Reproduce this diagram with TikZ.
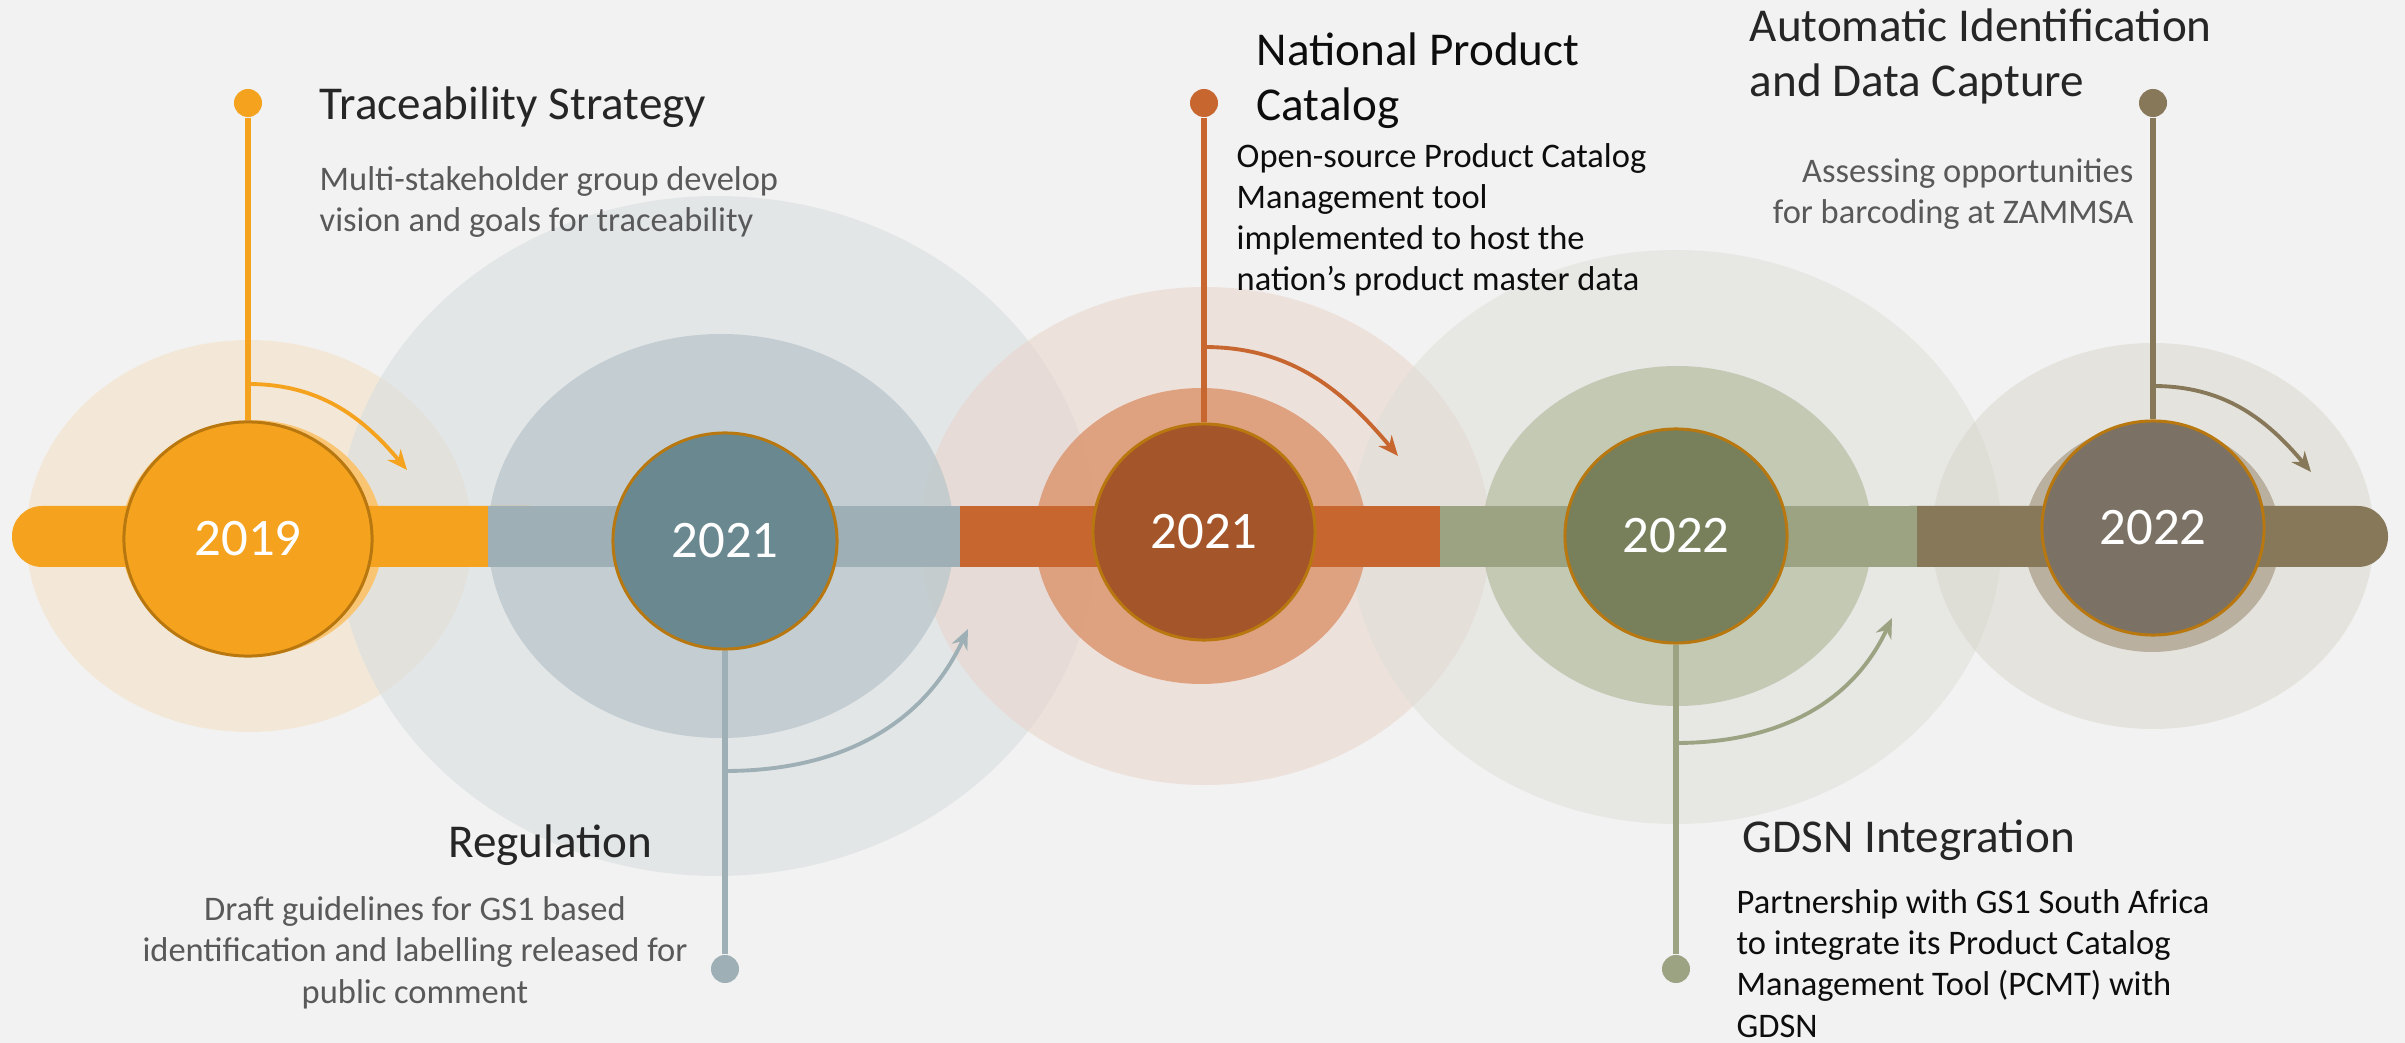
\documentclass[tikz,border=0pt]{standalone}
\usepackage{fontspec}
\setmainfont{Carlito}
\usetikzlibrary{shapes.geometric,arrows.meta}
\definecolor{bg}{HTML}{F2F2F2}
\definecolor{c1}{HTML}{F5A31F}
\definecolor{c2}{HTML}{9EB0B6}
\definecolor{c3}{HTML}{C86630}
\definecolor{c4}{HTML}{9CA383}
\definecolor{c5}{HTML}{87785A}
\definecolor{n1}{HTML}{F5A31F}
\definecolor{n2}{HTML}{6A8890}
\definecolor{n3}{HTML}{A5552A}
\definecolor{n4}{HTML}{78805B}
\definecolor{n5}{HTML}{7B7265}
\definecolor{h1}{HTML}{FAC573}
\definecolor{h5}{HTML}{BAB09F}
\definecolor{b1}{HTML}{F4E0C0}
\definecolor{b2}{HTML}{D4DCDE}
\definecolor{b3}{HTML}{EAD2C6}
\definecolor{b4}{HTML}{DEDED8}
\definecolor{b5}{HTML}{D8D6CA}
\definecolor{m2}{HTML}{BAC7CC}
\definecolor{m3}{HTML}{DB8E64}
\definecolor{m4}{HTML}{B9BFA5}
\definecolor{nodeborder}{HTML}{B8780F}
\definecolor{titlec}{HTML}{262626}
\definecolor{grayc}{HTML}{595959}
\definecolor{blackc}{HTML}{0D0D0D}
\begin{document}
\begin{tikzpicture}[x=0.01cm,y=-0.01cm,
  big/.style={fill opacity=0.5},
  mid/.style={fill opacity=0.75},
  yearnode/.style={ellipse, draw=nodeborder, line width=0.85pt, inner sep=0pt, text=white, font=\fontsize{15}{17}\selectfont},
  dotnode/.style={circle, inner sep=0pt, minimum size=0.28cm},
  stem/.style={line width=1.7pt},
  arr/.style={line width=1.1pt, -{Stealth[length=0.2cm,width=0.17cm]}},
  titletext/.style={font=\fontsize{13.4}{15.8}\selectfont, text=titlec, inner sep=0pt, align=left},
  desctext/.style={font=\fontsize{9.8}{11.75}\selectfont, inner sep=0pt},
]
\fill[bg] (0,0) rectangle (2405,1043);
\useasboundingbox (0,0) rectangle (2405,1043);

% big pale ellipses
\fill[b1, big] (249,536) ellipse [x radius=223, y radius=196];
\fill[b2, big] (717,536) ellipse [x radius=380, y radius=340];
\fill[b3, big] (1205,536) ellipse [x radius=285, y radius=249];
\fill[b4, big] (1676,537) ellipse [x radius=326, y radius=287];
\fill[b5, big] (2153,536) ellipse [x radius=221, y radius=193];

% medium rings
\fill[m2, mid] (721,536) ellipse [x radius=233, y radius=202];
\fill[m3, mid] (1201,536) ellipse [x radius=166, y radius=148];
\fill[m4, mid] (1677,536) ellipse [x radius=195, y radius=170];

% halos
\fill[h1] (252,538) ellipse [x radius=131, y radius=118];
\fill[h5] (2152,538) ellipse [x radius=128, y radius=114];

% bar
\fill[c1, rounded corners=0.3cm] (12,506) rectangle (560,567);
\fill[c5, rounded corners=0.3cm] (1880,506) rectangle (2388,567);
\fill[c2] (488,506) rectangle (960,567);
\fill[c3] (960,506) rectangle (1440,567);
\fill[c4] (1440,506) rectangle (1917,567);

% dots
\node[dotnode, fill=c1] (d1) at (248,103) {};
\node[dotnode, fill=c2] (d2) at (725,969) {};
\node[dotnode, fill=c3] (d3) at (1204,103) {};
\node[dotnode, fill=c4] (d4) at (1676,969) {};
\node[dotnode, fill=c5] (d5) at (2153,103) {};

% year nodes
\node[yearnode, fill=n1, minimum width=2.48cm, minimum height=2.34cm] (y1) at (248,539) {2019};
\node[yearnode, fill=n2, minimum width=2.24cm, minimum height=2.16cm] (y2) at (725,541) {2021};
\node[yearnode, fill=n3, minimum width=2.22cm, minimum height=2.16cm] (y3) at (1204,532) {2021};
\node[yearnode, fill=n4, minimum width=2.22cm, minimum height=2.14cm] (y4) at (1676,536) {2022};
\node[yearnode, fill=n5, minimum width=2.22cm, minimum height=2.14cm] (y5) at (2153,528) {2022};

% stems
\draw[stem, c1] (d1) -- (y1);
\draw[stem, c2] (d2) -- (y2);
\draw[stem, c3] (d3) -- (y3);
\draw[stem, c4] (d4) -- (y4);
\draw[stem, c5] (d5) -- (y5);

% curved arrows
\coordinate (a1s) at (248,384); \coordinate (a1e) at (407,470);
\coordinate (a2s) at (725,771); \coordinate (a2e) at (968,629);
\coordinate (a3s) at (1204,347); \coordinate (a3e) at (1398,456);
\coordinate (a4s) at (1676,743); \coordinate (a4e) at (1892,618);
\coordinate (a5s) at (2153,386); \coordinate (a5e) at (2311,472);
\draw[arr, c1] (a1s) to[out=0, in=130] (a1e);
\draw[arr, c2] (a2s) to[out=0, in=-115] (a2e);
\draw[arr, c3] (a3s) to[out=0, in=130] (a3e);
\draw[arr, c4] (a4s) to[out=0, in=-115] (a4e);
\draw[arr, c5] (a5s) to[out=0, in=130] (a5e);

% texts (base anchor = baseline of the last line)
\node[titletext, anchor=base west] (t1) at (319,120) {Traceability Strategy};
\node[desctext, text=grayc, align=left, anchor=base west] (e1) at (319,232) {Multi-stakeholder group develop\\vision and goals for traceability};

\node[titletext, anchor=base east] (t2) at (653,857) {Regulation};
\node[desctext, text=grayc, align=center, anchor=base] (e2) at (415,1003) {Draft guidelines for GS1 based\\identification and labelling released for\\public comment};

\node[titletext, text=blackc, anchor=base west] (t3) at (1256,121) {National Product\\Catalog};
\node[desctext, text=blackc, align=left, anchor=base west] (e3) at (1236,291) {Open-source Product Catalog\\Management tool\\implemented to host the\\nation’s product master data};

\node[titletext, anchor=base west] (t4) at (1742,852) {GDSN Integration};
\node[desctext, text=blackc, align=left, anchor=base west] (e4) at (1736,1037) {Partnership with GS1 South Africa\\to integrate its Product Catalog\\Management Tool (PCMT) with\\GDSN};

\node[titletext, anchor=base west] (t5) at (1749,97) {Automatic Identification\\and Data Capture};
\node[desctext, text=grayc, align=right, anchor=base east] (e5) at (2134,224) {Assessing opportunities\\for barcoding at ZAMMSA};
\end{tikzpicture}
\end{document}
